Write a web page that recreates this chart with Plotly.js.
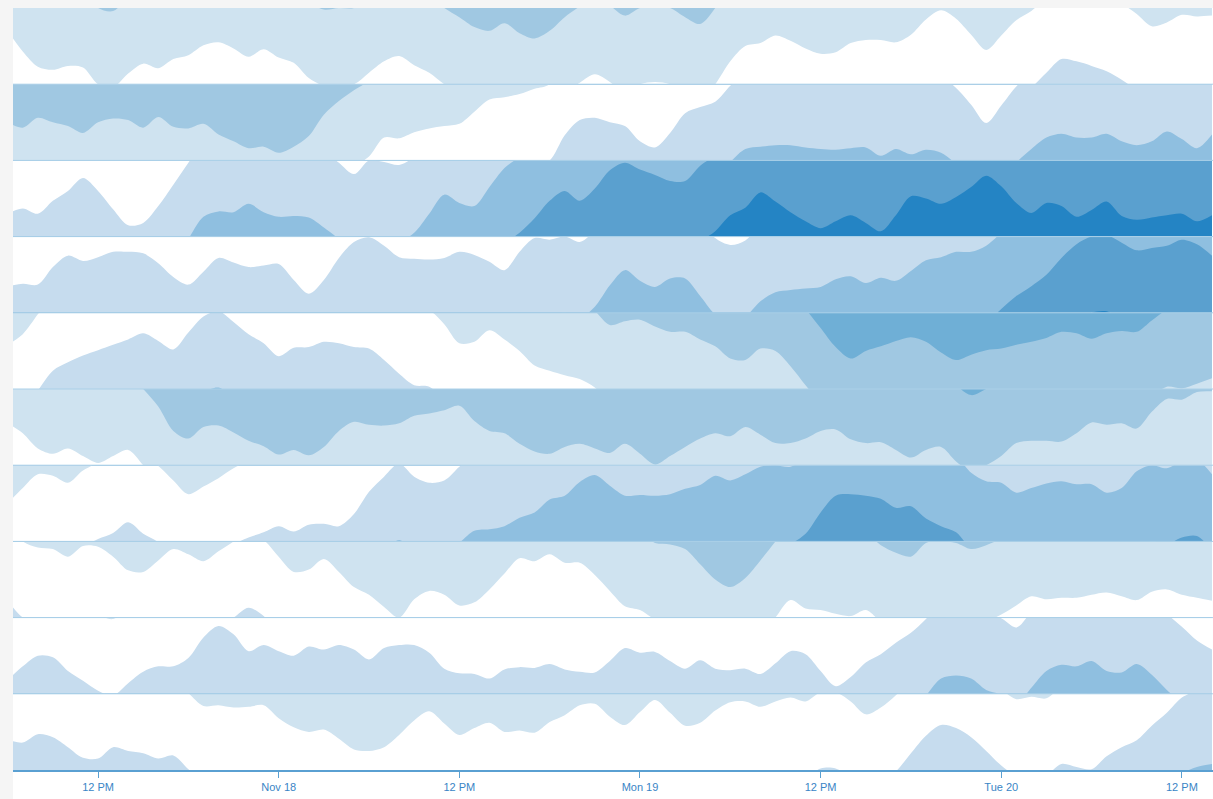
<!DOCTYPE html>
<html><head><meta charset="utf-8">
<script src="https://cdn.plot.ly/plotly-3.0.1.min.js"></script>
<style>html,body{margin:0;padding:0;background:#f5f5f5;} #chart{width:1213px;height:799px;}</style>
</head><body><div id="chart"></div>
<script>
// hourly timestamps, Nov 17 2018 06:00 -> Nov 20 2018 14:00
const hourCount = 81;
const times = [];
for (let j = 0; j < hourCount; j++) {
  const d = 17 + Math.floor((6 + j) / 24);
  const h = (6 + j) % 24;
  times.push('2018-11-' + d + ' ' + String(h).padStart(2, '0') + ':00');
}

const series1 = [
  -0.3,-0.57,-0.77,-0.81,-0.76,-0.78,-1.0,-1.04,-0.86,-0.73,
  -0.79,-0.67,-0.62,-0.49,-0.45,-0.53,-0.64,-0.54,-0.65,-0.72,
  -0.92,-1.02,-1.0,-1.0,-0.85,-0.7,-0.63,-0.75,-0.85,-1.0,
  -1.12,-1.25,-1.3,-1.2,-1.33,-1.4,-1.3,-1.12,-0.98,-0.87,
  -0.97,-1.1,-1.0,-0.97,-1.0,-1.12,-1.21,-1.0,-0.7,-0.5,
  -0.46,-0.36,-0.43,-0.53,-0.6,-0.58,-0.46,-0.42,-0.42,-0.45,
  -0.35,-0.15,-0.03,-0.14,-0.35,-0.55,-0.36,-0.16,-0.04,0.15,
  0.33,0.3,0.24,0.17,0.06,-0.08,-0.24,-0.19,-0.09,-0.11,
  -0.1];
const series2 = [
  -1.5,-1.57,-1.44,-1.5,-1.55,-1.64,-1.5,-1.45,-1.47,-1.57,
  -1.43,-1.56,-1.58,-1.52,-1.66,-1.75,-1.84,-1.82,-1.9,-1.82,
  -1.68,-1.4,-1.22,-1.08,-0.95,-0.7,-0.71,-0.63,-0.58,-0.55,
  -0.52,-0.36,-0.2,-0.17,-0.13,-0.06,0.0,0.33,0.53,0.56,
  0.5,0.45,0.25,0.17,0.36,0.62,0.7,0.77,0.98,1.15,
  1.18,1.2,1.2,1.17,1.15,1.14,1.16,1.17,1.06,1.15,
  1.08,1.14,1.1,0.95,0.73,0.49,0.72,0.97,1.15,1.3,
  1.35,1.3,1.3,1.35,1.25,1.2,1.25,1.38,1.28,1.16,
  1.34];
const series3 = [
  0.3,0.37,0.3,0.47,0.6,0.77,0.6,0.36,0.15,0.18,
  0.4,0.68,0.97,1.26,1.33,1.32,1.43,1.32,1.26,1.27,
  1.25,1.12,0.97,0.82,1.0,0.98,0.94,1.05,1.3,1.55,
  1.44,1.4,1.65,1.9,2.05,2.24,2.47,2.6,2.47,2.63,
  2.87,2.97,2.88,2.81,2.73,2.73,2.93,3.07,3.28,3.38,
  3.58,3.46,3.32,3.2,3.11,3.2,3.28,3.18,3.07,3.28,
  3.53,3.5,3.43,3.52,3.65,3.8,3.66,3.44,3.31,3.44,
  3.4,3.26,3.35,3.46,3.27,3.22,3.25,3.28,3.3,3.2,
  3.28];
const series4 = [
  0.35,0.38,0.37,0.6,0.75,0.68,0.73,0.8,0.8,0.78,
  0.65,0.47,0.37,0.54,0.72,0.66,0.6,0.62,0.64,0.43,
  0.25,0.43,0.72,0.93,0.99,0.88,0.73,0.71,0.7,0.72,
  0.8,0.76,0.67,0.56,0.8,0.98,0.96,1.0,0.93,1.08,
  1.36,1.56,1.42,1.34,1.45,1.45,1.22,0.98,0.89,0.95,
  1.15,1.27,1.3,1.32,1.34,1.44,1.48,1.39,1.46,1.42,
  1.55,1.69,1.73,1.8,1.8,1.88,2.05,2.22,2.35,2.5,
  2.72,2.9,3.0,3.02,2.92,2.82,2.85,2.88,2.96,2.9,
  2.75];
const series5 = [
  -0.42,-0.28,-0.02,0.24,0.35,0.44,0.51,0.58,0.65,0.73,
  0.63,0.52,0.74,0.95,1.02,0.88,0.72,0.6,0.43,0.54,
  0.55,0.62,0.6,0.55,0.53,0.38,0.2,0.05,0.03,-0.15,
  -0.4,-0.38,-0.23,-0.35,-0.5,-0.69,-0.76,-0.82,-0.87,-0.98,
  -1.16,-1.11,-1.09,-1.18,-1.25,-1.25,-1.35,-1.44,-1.6,-1.62,
  -1.47,-1.5,-1.7,-1.95,-2.2,-2.45,-2.6,-2.5,-2.44,-2.37,
  -2.32,-2.38,-2.52,-2.62,-2.55,-2.49,-2.47,-2.42,-2.38,-2.33,
  -2.25,-2.27,-2.34,-2.27,-2.24,-2.25,-2.1,-1.97,-1.99,-1.93,
  -1.86];
const series6 = [
  -0.45,-0.58,-0.78,-0.85,-0.78,-0.88,-0.97,-0.88,-0.8,-1.0,
  -1.23,-1.55,-1.65,-1.5,-1.48,-1.57,-1.68,-1.75,-1.86,-1.8,
  -1.87,-1.76,-1.55,-1.43,-1.47,-1.48,-1.45,-1.35,-1.32,-1.28,
  -1.22,-1.42,-1.55,-1.58,-1.72,-1.82,-1.85,-1.76,-1.72,-1.78,
  -1.84,-1.72,-1.85,-1.99,-1.88,-1.76,-1.65,-1.58,-1.62,-1.5,
  -1.6,-1.71,-1.71,-1.65,-1.55,-1.53,-1.66,-1.71,-1.7,-1.8,
  -1.9,-1.8,-1.76,-1.95,-2.08,-2.0,-1.88,-1.71,-1.68,-1.68,
  -1.69,-1.58,-1.44,-1.47,-1.45,-1.52,-1.3,-1.13,-1.14,-1.04,
  -1.03];
const series7 = [
  -0.5,-0.3,-0.12,-0.14,-0.23,-0.07,0.03,0.11,0.25,0.1,
  -0.01,-0.2,-0.38,-0.28,-0.17,-0.04,0.05,0.12,0.2,0.13,
  0.22,0.23,0.2,0.36,0.65,0.85,1.02,0.85,0.77,0.8,
  0.98,1.14,1.16,1.2,1.31,1.38,1.55,1.6,1.78,1.87,
  1.73,1.6,1.61,1.6,1.62,1.69,1.74,1.86,1.8,1.88,
  1.98,2.0,1.98,2.1,2.38,2.6,2.62,2.6,2.56,2.44,
  2.46,2.3,2.2,2.12,1.9,1.79,1.77,1.64,1.7,1.76,
  1.79,1.75,1.75,1.64,1.7,1.92,2.0,1.96,2.05,2.07,
  1.88];
const series8 = [
  0.22,0.0,-0.08,-0.1,-0.2,-0.06,-0.07,-0.2,-0.38,-0.4,
  -0.25,-0.1,-0.17,-0.26,-0.13,0.0,0.13,0.02,-0.2,-0.4,
  -0.37,-0.23,-0.4,-0.6,-0.7,-0.86,-1.0,-0.76,-0.65,-0.7,
  -0.84,-0.8,-0.63,-0.42,-0.22,-0.26,-0.17,-0.28,-0.28,-0.44,
  -0.65,-0.85,-0.9,-1.02,-1.04,-1.1,-1.3,-1.5,-1.6,-1.48,
  -1.25,-1.0,-0.77,-0.88,-0.9,-0.95,-0.98,-0.9,-1.05,-1.15,
  -1.2,-1.02,-1.0,-1.02,-1.1,-1.05,-0.96,-0.84,-0.72,-0.76,
  -0.74,-0.74,-0.7,-0.67,-0.72,-0.77,-0.66,-0.63,-0.7,-0.74,
  -0.78];
const series9 = [
  0.18,0.36,0.5,0.48,0.3,0.17,0.04,-0.02,0.14,0.29,
  0.36,0.36,0.47,0.74,0.89,0.78,0.56,0.64,0.56,0.5,
  0.62,0.58,0.64,0.58,0.45,0.6,0.64,0.64,0.54,0.33,
  0.27,0.26,0.2,0.32,0.35,0.34,0.39,0.32,0.29,0.28,
  0.43,0.6,0.54,0.55,0.43,0.33,0.44,0.33,0.31,0.33,
  0.26,0.4,0.56,0.52,0.3,0.1,0.22,0.41,0.52,0.67,
  0.8,0.98,1.2,1.24,1.2,1.05,0.99,0.87,1.08,1.3,
  1.38,1.36,1.43,1.3,1.28,1.39,1.25,1.05,0.88,0.7,
  0.58];
const series10 = [
  0.4,0.36,0.47,0.43,0.3,0.16,0.15,0.3,0.25,0.22,
  0.15,0.19,0.01,-0.16,-0.15,-0.18,-0.17,-0.15,-0.32,-0.44,
  -0.5,-0.47,-0.59,-0.73,-0.75,-0.7,-0.54,-0.35,-0.23,-0.39,
  -0.54,-0.45,-0.38,-0.5,-0.48,-0.51,-0.37,-0.28,-0.15,-0.13,
  -0.3,-0.41,-0.24,-0.08,-0.25,-0.42,-0.38,-0.22,-0.11,-0.1,
  -0.17,-0.1,-0.05,-0.1,0.02,0.02,-0.1,-0.27,-0.18,-0.02,
  0.22,0.45,0.59,0.55,0.43,0.25,0.06,-0.07,-0.04,-0.06,
  0.08,0.04,0.01,0.18,0.3,0.39,0.58,0.75,0.95,1.04,
  1.08];

const allSeries = [series1, series2, series3, series4, series5, series6, series7, series8, series9, series10];
const posColors = ['#c6dcee', '#8fbfe0', '#5aa0cf', '#2484c4'];
const negColors = ['#cfe3f0', '#a0c8e2', '#6fafd6'];
const tickVals = ['2018-11-17 12:00','2018-11-18 00:00','2018-11-18 12:00','2018-11-19 00:00','2018-11-19 12:00','2018-11-20 00:00','2018-11-20 12:00'];
const tickText = ['12 PM','Nov 18','12 PM','Mon 19','12 PM','Tue 20','12 PM'];

const nRows = allSeries.length;
const traces = [];
const layout = {
  width: 1213, height: 799,
  margin: {l: 13, r: 0, t: 8, b: 29},
  paper_bgcolor: '#f5f5f5',
  plot_bgcolor: '#ffffff',
  showlegend: false,
  xaxis: {
    type: 'date',
    range: ['2018-11-17 06:21', '2018-11-20 14:04'],
    anchor: 'y' + (2 * (nRows - 1) + 1),
    tickmode: 'array', tickvals: tickVals, ticktext: tickText,
    ticks: 'outside', ticklen: 6, tickwidth: 1, tickcolor: '#5aa0d2',
    showline: true, linecolor: '#5aa0d2', linewidth: 2,
    showgrid: false, zeroline: false, fixedrange: true,
    tickfont: {family: 'Liberation Sans, Arial, sans-serif', size: 11, color: '#3a85c6'}
  },
  shapes: []
};

allSeries.forEach((vals, r) => {
  const posId = 2 * r + 1, negId = 2 * r + 2;
  const posRef = posId === 1 ? 'y' : 'y' + posId;
  const negRef = 'y' + negId;
  const top = 1 - r / nRows, bottom = 1 - (r + 1) / nRows;
  layout['yaxis' + (posId === 1 ? '' : posId)] = {domain: [bottom, top], range: [0, 1], visible: false, fixedrange: true};
  layout['yaxis' + negId] = {domain: [bottom, top], range: [-1, 0], visible: false, fixedrange: true, overlaying: posRef};
  posColors.forEach((c, k) => traces.push({
    x: times, y: vals.map(v => v - k), yaxis: posRef, type: 'scatter', mode: 'lines',
    line: {width: 0, shape: 'spline', smoothing: 0.9}, fill: 'tozeroy', fillcolor: c,
    hoverinfo: 'skip', showlegend: false
  }));
  negColors.forEach((c, k) => traces.push({
    x: times, y: vals.map(v => v + k), yaxis: negRef, type: 'scatter', mode: 'lines',
    line: {width: 0, shape: 'spline', smoothing: 0.9}, fill: 'tozeroy', fillcolor: c,
    hoverinfo: 'skip', showlegend: false
  }));
  if (r > 0) {
    layout.shapes.push({type: 'line', xref: 'paper', yref: 'paper', x0: 0, x1: 1, y0: top, y1: top,
      line: {color: '#abd0e8', width: 1}, layer: 'above'});
  }
});
// white panel below the axis
layout.shapes.push({type: 'rect', xref: 'paper', yref: 'paper', x0: 0, x1: 1, y0: -29 / 762, y1: 0,
  fillcolor: '#ffffff', line: {width: 0}, layer: 'below'});

Plotly.newPlot('chart', traces, layout, {staticPlot: true, displayModeBar: false});
</script>
</body></html>
